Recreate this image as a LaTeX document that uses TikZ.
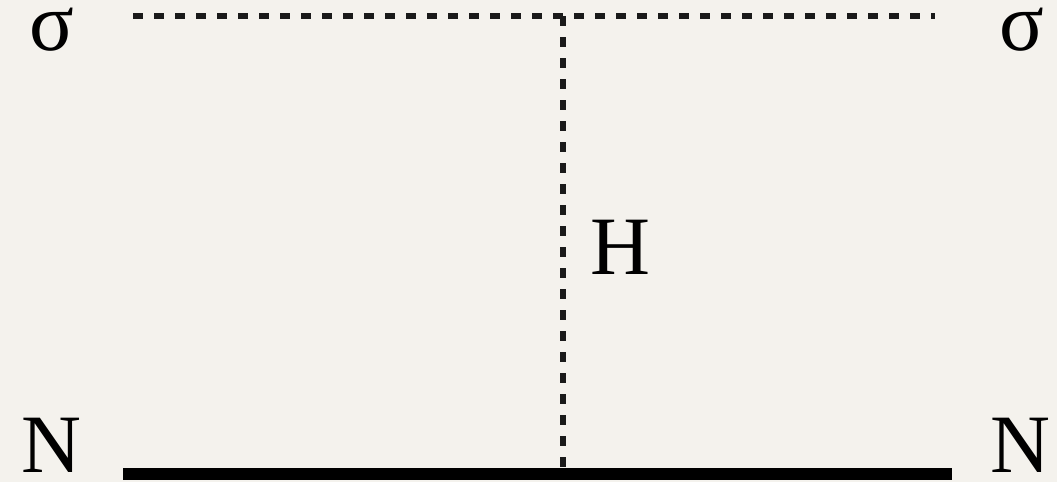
\documentclass[tikz,border=0pt]{standalone}
\usepackage{fontspec}
\setmainfont{Liberation Serif}
\definecolor{bgcol}{HTML}{F4F2ED}
\definecolor{inkcol}{HTML}{1A1A1A}
\begin{document}
\begin{tikzpicture}[x=1pt,y=-1pt,
  lbl/.style={anchor=base,inner sep=0pt,font=\fontsize{83}{90}\selectfont,text=black},
  scalar/.style={draw=inkcol,line width=5.5pt,dash pattern=on 10pt off 11pt},
  fermion/.style={draw=black,line width=12pt}]
\fill[bgcol] (0,0) rectangle (1057,482);
\useasboundingbox (0,0) rectangle (1057,482);
\coordinate (tl) at (133,16);
\coordinate (tr) at (935,16);
\coordinate (tv) at (563,16);
\coordinate (bv) at (563,468);
\coordinate (bl) at (123,474);
\coordinate (br) at (952,474);
\node[lbl] (s1) at (52,50) {σ};
\node[lbl] (s2) at (1022,50) {σ};
\node[lbl] (n1) at (51,472) {N};
\node[lbl] (n2) at (1020,472) {N};
\node[lbl] (h) at (620,274) {H};
\draw[scalar] (tl) -- (tr);
\draw[scalar] (tv) -- (bv);
\draw[fermion] (bl) -- (br);
\end{tikzpicture}
\end{document}
